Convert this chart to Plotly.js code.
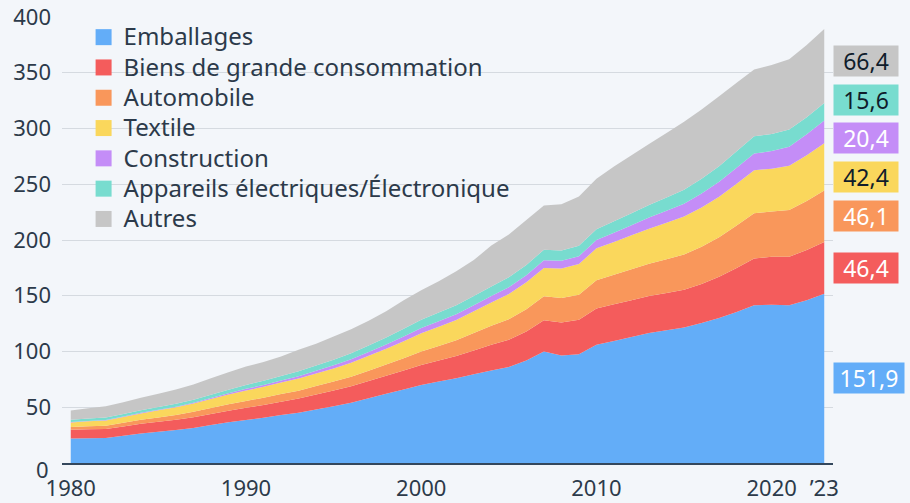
<!DOCTYPE html>
<html>
<head>
<meta charset="utf-8">
<script src="https://cdn.plot.ly/plotly-3.0.1.min.js"></script>
<style>
  html, body { margin: 0; padding: 0; background: #f3f6fa; }
  #chart { width: 910px; height: 503px; }
  #chart .legend .legendtext { font-size: 24px !important; }
  #chart .legend .scrollbox { clip-path: none !important; }
</style>
</head>
<body>
<div id="chart"></div>
<script>
// ---- Data (millions of tonnes) ----
const years = [1980,1981,1982,1983,1984,1985,1986,1987,1988,1989,
               1990,1991,1992,1993,1994,1995,1996,1997,1998,1999,
               2000,2001,2002,2003,2004,2005,2006,2007,2008,2009,
               2010,2011,2012,2013,2014,2015,2016,2017,2018,2019,
               2020,2021,2022,2023];

const seriesNames = ["Emballages", "Biens de grande consommation", "Automobile",
                     "Textile", "Construction", "Appareils électriques/Électronique", "Autres"];

const emballages = [22,22.3,22.5,24.5,26.5,28,29.5,31.5,34,36.5,
                    38.5,40.5,43,45,48,51,54,58,62,66,
                    70,73,76,79.5,83,86,92,100,96.5,97.5,
                    106,109.5,113,116.5,119,121.5,125.5,130,135.5,141.5,
                    142,141.5,146,151.9];
const biens = [7.8,8,8,8.3,8.6,8.9,9.2,9.6,10,10.4,
               11,11.5,12,12.8,13.5,14,14.8,15.5,16.3,17,
               18,19,20,21.5,23,24.5,26,28,29.5,31,
               32.5,32.8,33,33.2,33.4,33.8,35,37,39.5,42,
               43,43.5,45,46.4];
const automobile = [2.4,2.6,2.8,3.2,3.6,4,4.4,4.8,5.3,5.8,
                    6.2,6.5,6.8,7.1,7.5,8,8.6,9.3,10,11,
                    12,13,14,15.5,17,18.5,20,21.5,22,22.5,
                    25.5,26.5,27.7,29,30.3,31.7,33.5,35.5,38,40.5,
                    40.5,42,44,46.1];
const textile = [4.2,4.5,4.8,5.3,5.8,6.3,6.8,7.4,8.1,8.8,
                 9.4,9.8,10.3,10.8,11.3,11.8,12.5,13.3,14.2,15.3,
                 16.4,17.3,18.3,19.5,21,22.5,24,25.5,26.5,27.5,
                 28.5,29.5,30.5,31.5,32.8,34,35.2,36.4,37.5,38.5,
                 38.5,39.5,41,42.4];
const construction = [0.3,0.3,0.4,0.4,0.5,0.5,0.6,0.7,0.9,1.1,
                      1.4,1.6,1.9,2.2,2.5,2.8,3.1,3.4,3.8,4.2,
                      4.6,4.9,5.2,5.5,5.8,6.1,6.4,6.8,6.8,7,
                      7.5,8.3,9.1,9.9,10.7,11.5,12.4,13.3,14.2,15,
                      15.8,17.2,18.8,20.4];
const appareils = [2,2.1,2.2,2.3,2.4,2.5,2.6,2.8,3,3.2,
                   3.5,3.8,4.1,4.4,4.7,5,5.4,5.8,6.2,6.8,
                   7.4,7.7,8,8.3,8.6,8.9,9.2,9.5,9.3,9.4,
                   9.6,10.2,10.8,11.4,12,12.6,13.3,14,14.8,15.5,
                   15.3,15.3,15.4,15.6];
const autres = [8.3,9.2,10.3,10.5,11.1,11.8,12.9,13.7,14.7,15.7,
                16.5,16.8,17.4,19.2,19.5,20.9,21.6,22.2,23.5,25.7,
                26.6,28.1,30.5,32.2,36.6,38.5,40.4,39.7,41.4,44.1,
                45.4,49.2,51.9,54.5,57.8,60.9,62.1,62.8,61.5,60,
                61.9,63,64.8,66.4];

const xTickVals = [1980, 1990, 2000, 2010, 2020, 2023];
const xTickText = ["1980", "1990", "2000", "2010", "2020", "’23"];
const yTickVals = [50, 100, 150, 200, 250, 300, 350, 400];

// ---- Styles ----
const colors = ["#63adf8", "#f45c5c", "#f9975b", "#fad75c", "#c48df7", "#78dccf", "#c6c6c6"];
const labelTextColors = ["#ffffff", "#ffffff", "#ffffff", "#0f1c2b", "#ffffff", "#0f1c2b", "#0f1c2b"];
const FONT = "Noto Sans, Open Sans, sans-serif";
const TEXT = "#2c3a4a";

const allSeries = [emballages, biens, automobile, textile, construction, appareils, autres];

const traces = [];
allSeries.forEach((vals, i) => {
  traces.push({
    type: "scatter", mode: "none", x: years, y: vals, stackgroup: "one",
    fillcolor: colors[i], line: {width: 0}, name: seriesNames[i],
    showlegend: false, hoverinfo: "skip"
  });
});
// legend entries (square swatches)
allSeries.forEach((vals, i) => {
  traces.push({
    type: "scatter", mode: "markers", x: [null], y: [null], name: seriesNames[i],
    marker: {symbol: "square", size: 16, color: colors[i]}, showlegend: true, hoverinfo: "skip"
  });
});

// ---- End labels: midpoints of last stacked segments, spread to avoid overlap ----
const last = allSeries.map(s => s[s.length - 1]);
const mids = [];
let acc = 0;
last.forEach(v => { mids.push(acc + v / 2); acc += v; });
function spread(m, gap) {
  let clusters = m.map((c, i) => ({idx: [i], center: c}));
  let changed = true;
  while (changed) {
    changed = false;
    for (let i = 0; i < clusters.length - 1; i++) {
      const a = clusters[i], b = clusters[i + 1];
      const aTop = a.center + (a.idx.length - 1) / 2 * gap;
      const bBot = b.center - (b.idx.length - 1) / 2 * gap;
      if (bBot - aTop < gap - 1e-9) {
        const idx = a.idx.concat(b.idx);
        const center = idx.reduce((s, k) => s + m[k], 0) / idx.length;
        clusters.splice(i, 2, {idx, center});
        changed = true;
        break;
      }
    }
  }
  const pos = new Array(m.length);
  clusters.forEach(c => c.idx.forEach((k, j) => {
    pos[k] = c.center + (j - (c.idx.length - 1) / 2) * gap;
  }));
  return pos;
}
const labelPos = spread(mids, 34.5);

const annotations = last.map((v, i) => {
  const txt = v.toFixed(1).replace(".", ",");
  return {
    xref: "paper", yref: "y", x: 1, y: labelPos[i], xanchor: "left", yanchor: "middle",
    xshift: 0, text: txt, showarrow: false,
    font: {family: FONT, size: 23, color: labelTextColors[i]},
    bgcolor: colors[i], width: txt.length > 4 ? 66 : 60, height: 26, borderpad: 2, align: "center"
  };
});
// zero label on y axis (sits slightly below the baseline as in the reference)
annotations.push({
  xref: "paper", yref: "y", x: 0, y: 0, xanchor: "right", yanchor: "middle",
  xshift: -11, yshift: -6, text: "0", showarrow: false,
  font: {family: FONT, size: 22, color: TEXT}
});

const layout = {
  width: 910, height: 503,
  paper_bgcolor: "#f3f6fa", plot_bgcolor: "#f3f6fa",
  margin: {l: 62, r: 77, t: 17, b: 40},
  font: {family: FONT, color: TEXT, size: 22},
  showlegend: true,
  legend: {
    x: 0.028, y: 1.0, xanchor: "left", yanchor: "top",
    bgcolor: "rgba(0,0,0,0)", font: {family: FONT, size: 21, color: TEXT},
    traceorder: "normal", itemclick: false, itemdoubleclick: false
  },
  xaxis: {
    range: [1979.5, 2023.5], tickvals: xTickVals, ticktext: xTickText,
    showgrid: false, zeroline: false, showline: true, linecolor: "#34475c", linewidth: 2,
    ticks: "", ticklabelstandoff: 5, tickfont: {family: FONT, size: 22, color: TEXT}, fixedrange: true
  },
  yaxis: {
    range: [0, 400], tickvals: yTickVals, showgrid: true, gridcolor: "#d5dae0", gridwidth: 1,
    zeroline: false, showline: false, ticks: "", ticklabelstandoff: 10,
    tickfont: {family: FONT, size: 22, color: TEXT}, fixedrange: true
  },
  annotations: annotations
};

Plotly.newPlot("chart", traces, layout, {displayModeBar: false, staticPlot: true});
</script>
</body>
</html>
